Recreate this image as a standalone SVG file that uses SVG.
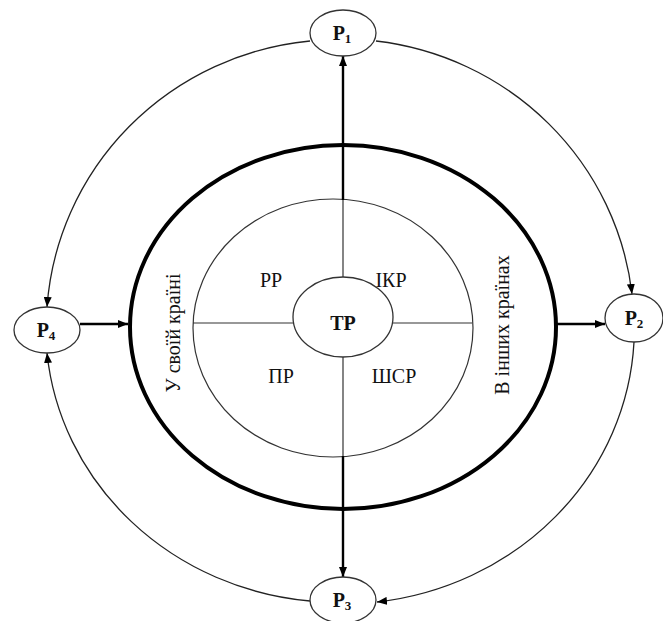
<svg xmlns="http://www.w3.org/2000/svg" width="663" height="621" viewBox="0 0 663 621">
<style>
.thin{fill:none;stroke:#333;stroke-width:1.2}
.arc{fill:none;stroke:#222;stroke-width:1.3}
.bold{fill:none;stroke:#000;stroke-width:2.4}
.node{fill:#fff;stroke:#333;stroke-width:1.3}
.t{font-family:"Liberation Serif","Times New Roman",serif;font-size:20px;fill:#111;text-anchor:middle}
.b{font-weight:bold}
.sub{font-size:13px}
</style>
<defs>
<marker id="ah" viewBox="0 0 10 8" refX="10" refY="4" markerWidth="10" markerHeight="8" markerUnits="userSpaceOnUse" orient="auto">
<path d="M0,0 L10,4 L0,8 Z" fill="#000"/>
</marker>
</defs>
<rect width="663" height="621" fill="#fff"/>
<g id="outer-ring">
<ellipse cx="343" cy="327" rx="213" ry="182" fill="none" stroke="#000" stroke-width="4"/>
</g>
<g id="inner-ring">
<ellipse cx="333" cy="328" rx="140" ry="129" class="thin"/>
</g>
<g id="connectors">
<line x1="343" y1="200" x2="343" y2="277" class="thin"/>
<line x1="343" y1="357" x2="343" y2="457" class="thin"/>
<line x1="193" y1="323" x2="293" y2="323" class="thin"/>
<line x1="393" y1="323" x2="472" y2="323" class="thin"/>
<line x1="343" y1="200" x2="343" y2="56" class="bold" marker-end="url(#ah)"/>
<line x1="343" y1="456" x2="343" y2="577" class="bold" marker-end="url(#ah)"/>
<line x1="80" y1="324" x2="128" y2="324" class="bold" marker-end="url(#ah)"/>
<line x1="557" y1="324" x2="605" y2="324" class="bold" marker-end="url(#ah)"/>
<path d="M376,41 A292,288 0 0 1 632,294" class="arc" marker-end="url(#ah)"/>
<path d="M634,342 A292,276 0 0 1 377,602" class="arc" marker-end="url(#ah)"/>
<path d="M310,601 A292,276 0 0 1 47,353" class="arc" marker-end="url(#ah)"/>
<path d="M310,41 A292,288 0 0 0 47,307" class="arc" marker-end="url(#ah)"/>
</g>
<g id="TP">
<ellipse cx="343" cy="317" rx="50" ry="40" class="node"/>
<text x="343" y="330" class="t b" font-size="21">ТР</text>
</g>
<g id="PP"><text x="271" y="287" class="t">РР</text></g>
<g id="IKP"><text x="391" y="287" class="t">ІКР</text></g>
<g id="PR"><text x="281" y="383" class="t">ПР</text></g>
<g id="SHSR"><text x="394" y="383" class="t">ШСР</text></g>
<g id="home"><text x="0" y="0" class="t" font-size="21.5" transform="translate(180,333) rotate(-90)">У своїй країні</text></g>
<g id="abroad"><text x="0" y="0" class="t" font-size="21.5" transform="translate(509,325) rotate(-90)">В інших країнах</text></g>
<g id="P1">
<ellipse cx="343" cy="33" rx="33" ry="23" class="node"/>
<text x="342" y="40" class="t b">Р<tspan class="sub" dy="3">1</tspan></text>
</g>
<g id="P2">
<ellipse cx="634" cy="318" rx="29" ry="24" class="node"/>
<text x="634" y="325" class="t b">Р<tspan class="sub" dy="3">2</tspan></text>
</g>
<g id="P3">
<ellipse cx="343" cy="600" rx="33" ry="23" class="node"/>
<text x="342" y="607" class="t b">Р<tspan class="sub" dy="3">3</tspan></text>
</g>
<g id="P4">
<ellipse cx="47" cy="330" rx="33" ry="23" class="node"/>
<text x="46" y="337" class="t b">Р<tspan class="sub" dy="3">4</tspan></text>
</g>
</svg>
